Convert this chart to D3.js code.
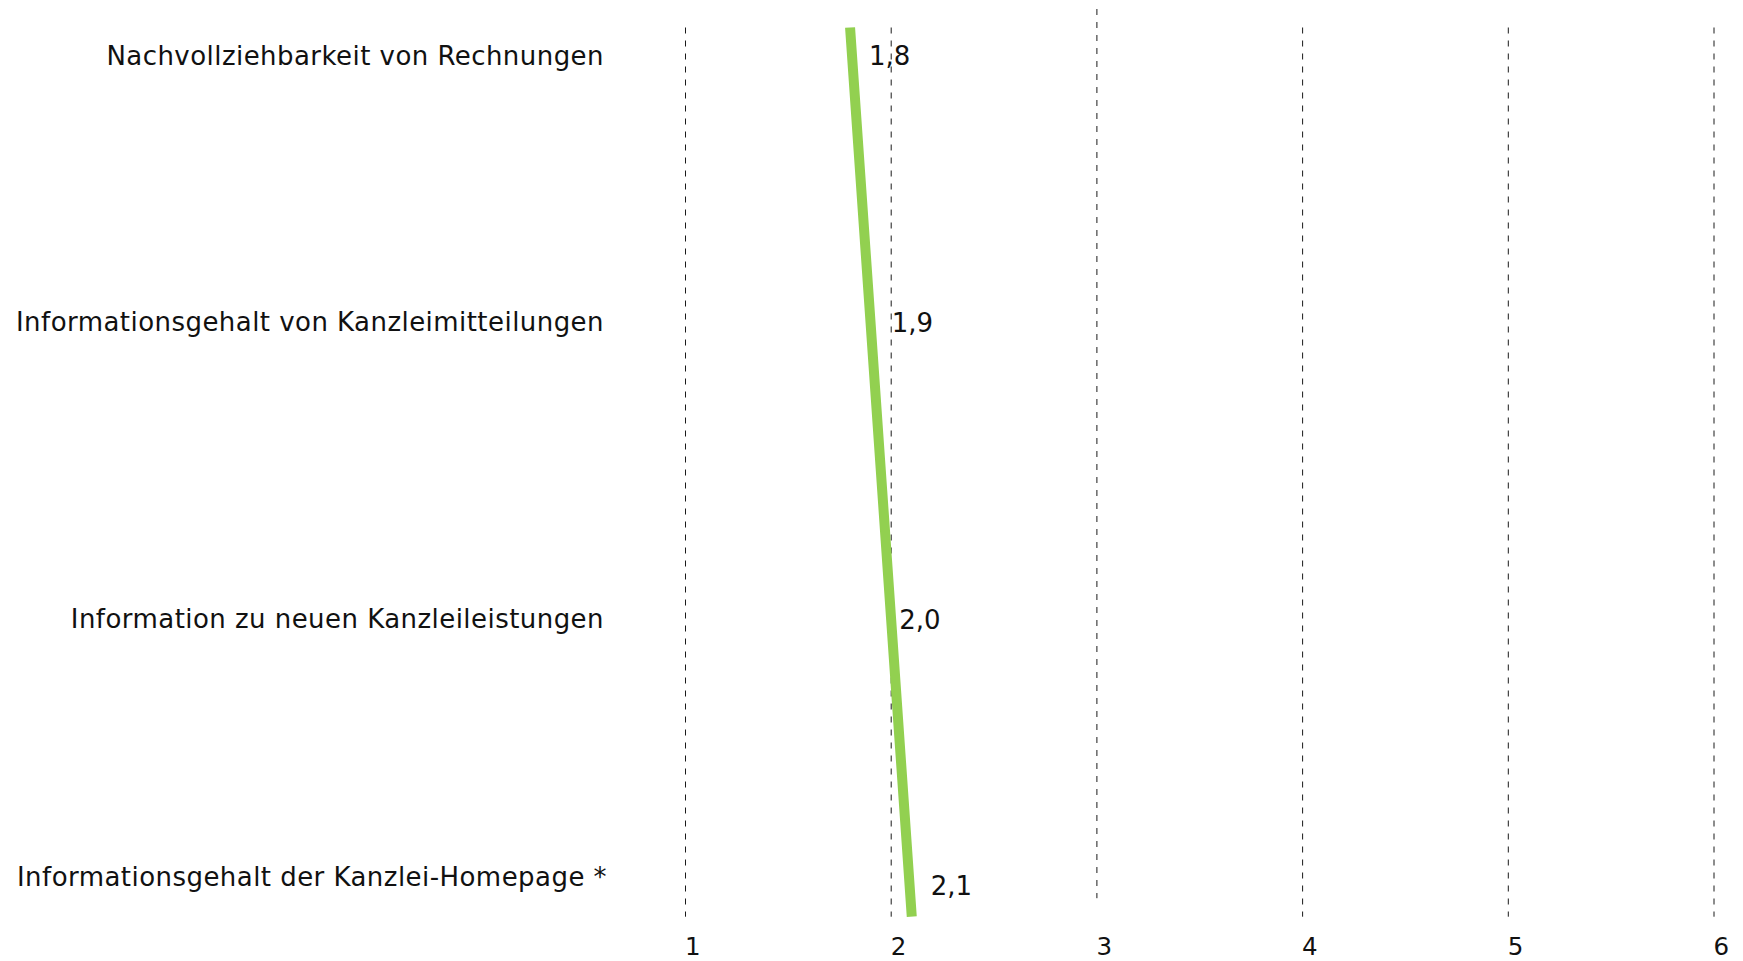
<!DOCTYPE html>
<html>
<head>
<meta charset="utf-8">
<script src="https://cdn.jsdelivr.net/npm/d3@7"></script>
<style>
  html, body { margin: 0; padding: 0; background: #fff; }
  svg { display: block; }
  text { font-family: "DejaVu Sans", Verdana, sans-serif; fill: #111; }
</style>
</head>
<body>
<svg id="chart" width="1743" height="961"></svg>
<script>
// ---- data ----
const categories = [
  "Nachvollziehbarkeit von Rechnungen",
  "Informationsgehalt von Kanzleimitteilungen",
  "Information zu neuen Kanzleileistungen",
  "Informationsgehalt der Kanzlei-Homepage *"
];
const values = [1.8, 1.9, 2.0, 2.1];
const tickValues = [1, 2, 3, 4, 5, 6];

// ---- layout / style (not data) ----
const W = 1743, H = 961;
const plotTop = 27.5, plotBottom = 916.7;
const xLeft = 685.5, xRight = 1714;
const fontSize = 26;
const tickFontSize = 24.5;
const catLabelX = 604;
const catLabelDx = [0, 0, 0, 3];
const catLabelDy = [37.5, 7.5, 8, -30.7];   // baseline offset from point y
const valLabelDx = [19, 21, 8, 19];
const valLabelDy = [37.5, 8, 8.2, -21.7];
const gridShift = {3: -18.5};
const green = "#92D050";

const de = d3.formatLocale({decimal: ",", thousands: ".", grouping: [3], currency: ["", " €"]});
const fmt = de.format(".1f");

const svg = d3.select("#chart");

const x = d3.scaleLinear().domain([1, 6]).range([xLeft, xRight]);
const y = d3.scalePoint().domain(categories).range([plotTop, plotBottom]);

// gridlines
svg.append("g").selectAll("line")
  .data(tickValues)
  .join("line")
  .attr("x1", d => x(d)).attr("x2", d => x(d))
  .attr("y1", d => plotTop + (gridShift[d] || 0))
  .attr("y2", d => plotBottom + (gridShift[d] || 0))
  .attr("stroke", "#1a1a1a")
  .attr("stroke-width", 1)
  .attr("stroke-dasharray", "6,7");

// x axis tick labels
svg.append("g").selectAll("text")
  .data(tickValues)
  .join("text")
  .attr("x", d => x(d) - 0.5)
  .attr("y", 955)
  .attr("font-size", tickFontSize)
  .attr("text-anchor", "start")
  .text(d => d);

// category labels
svg.append("g").selectAll("text")
  .data(categories)
  .join("text")
  .attr("x", (d, i) => catLabelX + catLabelDx[i])
  .attr("y", (d, i) => y(d) + catLabelDy[i])
  .attr("font-size", fontSize)
  .attr("letter-spacing", "0.45px")
  .attr("text-anchor", "end")
  .text(d => d);

// line
const line = d3.line()
  .x((d, i) => x(d))
  .y((d, i) => y(categories[i]));

svg.append("path")
  .datum(values)
  .attr("d", line)
  .attr("fill", "none")
  .attr("stroke", green)
  .attr("stroke-width", 10)
  .attr("stroke-linecap", "butt");

// value labels
svg.append("g").selectAll("text")
  .data(values)
  .join("text")
  .attr("x", (d, i) => x(d) + valLabelDx[i])
  .attr("y", (d, i) => y(categories[i]) + valLabelDy[i])
  .attr("font-size", fontSize)
  .text(d => fmt(d));
</script>
</body>
</html>
